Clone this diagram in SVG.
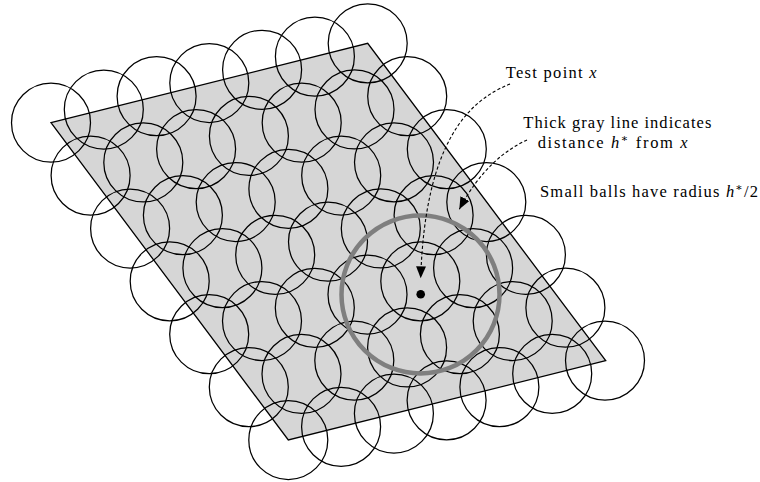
<svg xmlns="http://www.w3.org/2000/svg" width="760" height="482" viewBox="0 0 760 482">
<style>
.ball{fill:none;stroke:#000;stroke-width:1.25}
.big{fill:none;stroke:#7f7f7f;stroke-width:4.5}
.lead{fill:none;stroke:#000;stroke-width:1.1;stroke-dasharray:3.2 2.2}
.lbl{font-size:16.5px;fill:#000}
.m{font-style:italic}
.sup{font-size:11px}
</style>
<defs>
<marker id="ah" markerUnits="userSpaceOnUse" markerWidth="14" markerHeight="12" refX="12" refY="5" orient="auto" viewBox="0 0 14 12">
<path d="M0,0 L12,5 L0,10 z" fill="#000" stroke="none"/>
</marker>
</defs>
<g id="domain">
<polygon points="51,122.7 367.7,43.3 605.7,360.7 288.3,440" fill="#d6d6d6" stroke="#000" stroke-width="1.3"/>
</g>
<g id="balls">
<circle class="ball" cx="51" cy="122.7" r="39.5"/>
<circle class="ball" cx="103.8" cy="109.5" r="39.5"/>
<circle class="ball" cx="156.6" cy="96.2" r="39.5"/>
<circle class="ball" cx="209.3" cy="83" r="39.5"/>
<circle class="ball" cx="262.1" cy="69.8" r="39.5"/>
<circle class="ball" cx="314.9" cy="56.6" r="39.5"/>
<circle class="ball" cx="367.7" cy="43.3" r="39.5"/>
<circle class="ball" cx="90.6" cy="175.6" r="39.5"/>
<circle class="ball" cx="143.3" cy="162.4" r="39.5"/>
<circle class="ball" cx="196.1" cy="149.1" r="39.5"/>
<circle class="ball" cx="248.9" cy="135.9" r="39.5"/>
<circle class="ball" cx="301.7" cy="122.7" r="39.5"/>
<circle class="ball" cx="354.5" cy="109.4" r="39.5"/>
<circle class="ball" cx="407.2" cy="96.2" r="39.5"/>
<circle class="ball" cx="130.1" cy="228.5" r="39.5"/>
<circle class="ball" cx="182.9" cy="215.2" r="39.5"/>
<circle class="ball" cx="235.7" cy="202" r="39.5"/>
<circle class="ball" cx="288.4" cy="188.8" r="39.5"/>
<circle class="ball" cx="341.2" cy="175.5" r="39.5"/>
<circle class="ball" cx="394" cy="162.3" r="39.5"/>
<circle class="ball" cx="446.8" cy="149.1" r="39.5"/>
<circle class="ball" cx="169.7" cy="281.3" r="39.5"/>
<circle class="ball" cx="222.4" cy="268.1" r="39.5"/>
<circle class="ball" cx="275.2" cy="254.9" r="39.5"/>
<circle class="ball" cx="328" cy="241.7" r="39.5"/>
<circle class="ball" cx="380.8" cy="228.4" r="39.5"/>
<circle class="ball" cx="433.6" cy="215.2" r="39.5"/>
<circle class="ball" cx="486.3" cy="202" r="39.5"/>
<circle class="ball" cx="209.2" cy="334.2" r="39.5"/>
<circle class="ball" cx="262" cy="321" r="39.5"/>
<circle class="ball" cx="314.8" cy="307.8" r="39.5"/>
<circle class="ball" cx="367.5" cy="294.5" r="39.5"/>
<circle class="ball" cx="420.3" cy="281.3" r="39.5"/>
<circle class="ball" cx="473.1" cy="268.1" r="39.5"/>
<circle class="ball" cx="525.9" cy="254.8" r="39.5"/>
<circle class="ball" cx="248.8" cy="387.1" r="39.5"/>
<circle class="ball" cx="301.5" cy="373.9" r="39.5"/>
<circle class="ball" cx="354.3" cy="360.6" r="39.5"/>
<circle class="ball" cx="407.1" cy="347.4" r="39.5"/>
<circle class="ball" cx="459.9" cy="334.2" r="39.5"/>
<circle class="ball" cx="512.7" cy="321" r="39.5"/>
<circle class="ball" cx="565.4" cy="307.7" r="39.5"/>
<circle class="ball" cx="288.3" cy="440" r="39.5"/>
<circle class="ball" cx="341.1" cy="426.8" r="39.5"/>
<circle class="ball" cx="393.9" cy="413.5" r="39.5"/>
<circle class="ball" cx="446.6" cy="400.3" r="39.5"/>
<circle class="ball" cx="499.4" cy="387.1" r="39.5"/>
<circle class="ball" cx="552.2" cy="373.8" r="39.5"/>
<circle class="ball" cx="605" cy="360.6" r="39.5"/>
</g>
<g id="distance-circle">
<circle class="big" cx="420.5" cy="294.5" r="79"/>
</g>
<g id="test-point">
<circle cx="420.7" cy="294.3" r="4.3" fill="#000"/>
</g>
<g id="connectors">
<path class="lead" d="M510,84 C470,100 425,140 420.7,278.3" marker-end="url(#ah)"/>
<path class="lead" d="M527,140 C505,150 480,170 459.3,209.3" marker-end="url(#ah)"/>
</g>
<g font-family="'Liberation Serif', 'DejaVu Serif', 'Times New Roman', serif">
<g id="label-test-point">
<text class="lbl" x="505.7" y="77.7" textLength="91" lengthAdjust="spacing">Test point <tspan class="m">x</tspan></text>
</g>
<g id="label-thick-line">
<text class="lbl" x="523.3" y="128.3" textLength="188" lengthAdjust="spacing">Thick gray line indicates</text>
<text class="lbl" x="537.7" y="147.7" textLength="150" lengthAdjust="spacing">distance <tspan class="m">h</tspan><tspan class="sup" dy="-6">∗</tspan><tspan dy="6"> from </tspan><tspan class="m">x</tspan></text>
</g>
<g id="label-small-balls">
<text class="lbl" x="540" y="196.5" textLength="218" lengthAdjust="spacing">Small balls have radius <tspan class="m">h</tspan><tspan class="sup" dy="-6">∗</tspan><tspan dy="6">/2</tspan></text>
</g>
</g>
</svg>
